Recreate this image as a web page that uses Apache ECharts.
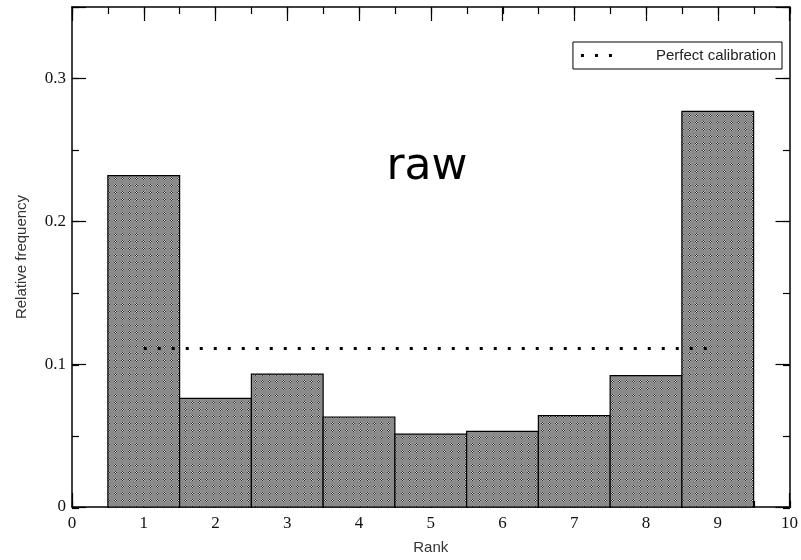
<!DOCTYPE html>
<html lang="en">
<head>
    <meta charset="UTF-8">
    <title>Rank histogram - raw</title>
    <script src="https://cdn.jsdelivr.net/npm/echarts@6/dist/echarts.min.js"></script>
    <style>
        html, body { margin: 0; padding: 0; background: #fff; overflow: hidden; }
        #chart { width: 801px; height: 560px; }
    </style>
</head>
<body>
    <div id="chart"></div>
    <script>
        // values
        var ranks = [1, 2, 3, 4, 5, 6, 7, 8, 9];
        var freq = [0.232, 0.076, 0.093, 0.063, 0.051, 0.053, 0.064, 0.092, 0.277];
        var calibX = [1, 9];
        var calibY = [0.111, 0.111];
        var legendName = 'Perfect calibration';

        // small hatch tile for the bars
        function makeTile() {
            var c = document.createElement('canvas');
            c.width = 7; c.height = 7;
            var ctx = c.getContext('2d');
            ctx.fillStyle = '#8a8a8a';
            ctx.fillRect(0, 0, 7, 7);
            ctx.fillStyle = '#2a2a2a';
            ctx.fillRect(2, 3, 1, 1); ctx.fillRect(4, 3, 1, 1);
            ctx.fillRect(3, 2, 1, 1); ctx.fillRect(3, 4, 1, 1);
            ctx.fillStyle = '#fff';
            ctx.fillRect(3, 3, 1, 1);
            ctx.fillStyle = '#b0b0b0';
            ctx.fillRect(2, 2, 1, 1); ctx.fillRect(4, 4, 1, 1);
            ctx.fillRect(4, 2, 1, 1); ctx.fillRect(2, 4, 1, 1);
            return c;
        }
        var tile = makeTile();

        var barData = ranks.map(function (r, i) { return [r, freq[i]]; });
        var lineData = calibX.map(function (x, i) { return [x, calibY[i]]; });

        var labelFont = { fontFamily: 'Liberation Serif', fontSize: 17, color: '#111' };
        var frameLine = { show: true, onZero: false, lineStyle: { color: '#000', width: 1.5 } };
        var noLine = { show: false, onZero: false };

        function xAx(grid, pos, interval, len, labels) {
            return {
                type: 'value', gridIndex: grid, position: pos, min: 0, max: 10, interval: interval,
                axisLine: grid === 0 ? frameLine : noLine,
                axisTick: { show: true, inside: true, length: len, lineStyle: { color: '#000', width: 1.2 } },
                axisLabel: labels ? Object.assign({ show: true, margin: 8 }, labelFont) : { show: false },
                splitLine: { show: false },
                name: labels ? 'Rank' : '', nameLocation: 'middle', nameGap: 33,
                nameTextStyle: { fontFamily: 'Liberation Sans', fontSize: 15, color: '#333' }
            };
        }
        function yAx(grid, pos, interval, len, labels) {
            return {
                type: 'value', gridIndex: grid, position: pos, min: 0, max: 0.35, interval: interval,
                axisLine: grid === 0 ? frameLine : noLine,
                axisTick: { show: true, inside: true, length: len, lineStyle: { color: '#000', width: 1.2 } },
                axisLabel: labels ? Object.assign({
                    show: true, margin: 6,
                    formatter: function (v) { return v > 0.31 ? '' : (v === 0 ? '0' : String(Math.round(v * 10) / 10)); }
                }, labelFont) : { show: false },
                splitLine: { show: false },
                name: labels ? 'Relative frequency' : '', nameLocation: 'middle', nameGap: 43,
                nameTextStyle: { fontFamily: 'Liberation Sans', fontSize: 15, color: '#333' }
            };
        }

        var gridBox = { left: 72, right: 11, top: 7, bottom: 52, containLabel: false };

        var chart = echarts.init(document.getElementById('chart'), null, { renderer: 'canvas' });
        var option = {
            animation: false,
            backgroundColor: '#fff',
            grid: [Object.assign({}, gridBox), Object.assign({}, gridBox)],
            xAxis: [
                xAx(0, 'bottom', 1, 14, true),
                xAx(0, 'top', 1, 14, false),
                xAx(1, 'bottom', 0.5, 7, false),
                xAx(1, 'top', 0.5, 7, false)
            ],
            yAxis: [
                yAx(0, 'left', 0.1, 14, true),
                yAx(0, 'right', 0.1, 14, false),
                yAx(1, 'left', 0.05, 7, false),
                yAx(1, 'right', 0.05, 7, false)
            ],
            legend: {
                show: true,
                data: [{ name: legendName, icon: 'path://M0,0h3v3h-3zM14,0h3v3h-3zM28,0h3v3h-3z' }],
                right: 19, top: 42,
                padding: [6, 6, 6, 8],
                borderColor: '#000', borderWidth: 1,
                itemWidth: 31, itemHeight: 3,
                itemStyle: { color: '#000' },
                textStyle: { fontFamily: 'Liberation Sans', fontSize: 15, color: '#222', padding: [0, 0, 0, 39] }
            },
            graphic: [{
                type: 'text', silent: true, x: 427, y: 168,
                style: { text: 'raw', fill: '#000', align: 'center', verticalAlign: 'middle',
                    font: '44px "Comic Sans MS", "DejaVu Sans", sans-serif' }
            }],
            series: [
                {
                    type: 'custom', xAxisIndex: 0, yAxisIndex: 0,
                    data: barData,
                    renderItem: function (params, api) {
                        var x = api.value(0), v = api.value(1);
                        var p1 = api.coord([x - 0.5, v]);
                        var p2 = api.coord([x + 0.5, 0]);
                        return {
                            type: 'rect',
                            shape: { x: p1[0], y: p1[1], width: p2[0] - p1[0], height: p2[1] - p1[1] },
                            style: { fill: { image: tile, repeat: 'repeat' }, stroke: '#000', lineWidth: 1.2 }
                        };
                    },
                    z: 2
                },
                {
                    name: legendName, type: 'line', xAxisIndex: 0, yAxisIndex: 0,
                    data: lineData, symbol: 'none', color: '#000',
                    lineStyle: { color: '#000', width: 3, type: [3, 11], cap: 'butt' },
                    z: 3
                }
            ]
        };
        chart.setOption(option);
    </script>
</body>
</html>
